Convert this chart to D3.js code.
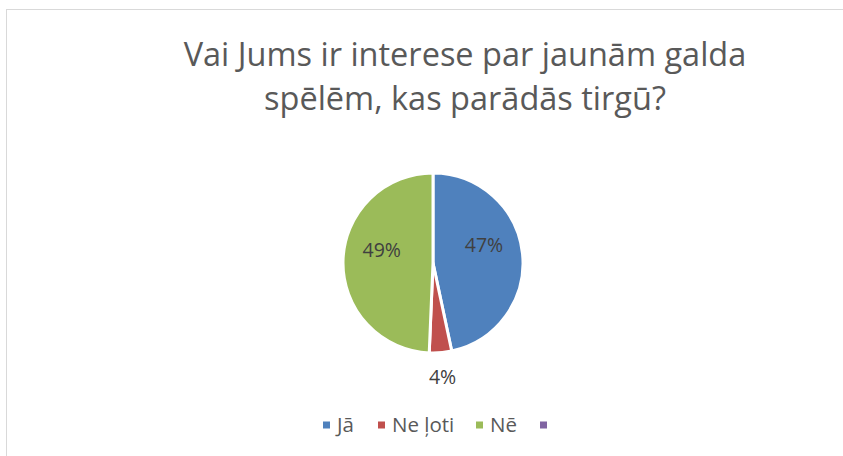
<!DOCTYPE html>
<html>
<head>
<meta charset="utf-8">
<script src="https://cdn.jsdelivr.net/npm/d3@7"></script>
<style>
  body { margin: 0; background: #fff; }
  text { font-family: "Open Sans", "Liberation Sans", sans-serif; }
</style>
</head>
<body>
<script>
// chart data
var categories = ["Jā", "Ne ļoti", "Nē", ""];
var answers = [35, 3, 37, 0];
var colors = ["#4f81bd", "#c0504d", "#9bbb59", "#8064a2"];
var titleLines = ["Vai Jums ir interese par jaunām galda", "spēlēm, kas parādās tirgū?"];

var width = 843, height = 456,
    cx = 433, cy = 263, radius = 90;

var svg = d3.select("body").append("svg")
    .attr("width", width)
    .attr("height", height);

// chart frame
svg.append("rect")
    .attr("x", 6.5).attr("y", 9.5)
    .attr("width", width + 10).attr("height", height + 10)
    .attr("fill", "none")
    .attr("stroke", "#d9d9d9")
    .attr("stroke-width", 1);

// title
svg.append("g").selectAll("text")
    .data(titleLines)
    .enter().append("text")
    .attr("x", 465)
    .attr("y", function(d, i) { return 66 + i * 44; })
    .attr("text-anchor", "middle")
    .attr("fill", "#595959")
    .style("font-size", "32.5px")
    .text(function(d) { return d; });

var dataList = categories.map(function(c, i) {
  return { name: c, value: answers[i], color: colors[i] };
});
var total = d3.sum(answers);

var pie = d3.pie().sort(null).value(function(d) { return d.value; });
var arc = d3.arc().innerRadius(0).outerRadius(radius);

var g = svg.append("g")
    .attr("transform", "translate(" + cx + "," + cy + ")");

var arcs = pie(dataList).filter(function(d) { return d.data.value > 0; });

g.selectAll(".slice")
    .data(arcs)
    .enter().append("path")
    .attr("class", "slice")
    .attr("d", arc)
    .attr("fill", function(d) { return d.data.color; })
    .attr("stroke", "#fff")
    .attr("stroke-width", 3)
    .attr("stroke-linejoin", "round");

// labels: big slices inside (a bit raised), small outside
var inner = d3.arc().innerRadius(radius * 0.57).outerRadius(radius * 0.57);
var outer = d3.arc().innerRadius(radius * 1.27).outerRadius(radius * 1.27);

g.selectAll(".label")
    .data(arcs)
    .enter().append("text")
    .attr("class", "label")
    .attr("transform", function(d) {
      var small = d.data.value / total < 0.1;
      var p = (small ? outer : inner).centroid(d);
      if (!small) p[1] -= 12;
      return "translate(" + p + ")";
    })
    .attr("dy", "0.35em")
    .attr("text-anchor", "middle")
    .attr("fill", "#404040")
    .style("font-size", "19.5px")
    .text(function(d) { return Math.round(d.data.value / total * 100) + "%"; });

// legend
var legendX = [323, 378, 476, 540];
var legend = svg.append("g").selectAll(".legend")
    .data(dataList)
    .enter().append("g")
    .attr("class", "legend")
    .attr("transform", function(d, i) { return "translate(" + legendX[i] + ",425)"; });

legend.append("rect")
    .attr("x", 0).attr("y", -3.5)
    .attr("width", 7).attr("height", 7)
    .attr("fill", function(d) { return d.color; });

legend.append("text")
    .attr("x", 14)
    .attr("dy", "0.36em")
    .attr("fill", "#595959")
    .style("font-size", "20.5px")
    .text(function(d) { return d.name; });
</script>
</body>
</html>
